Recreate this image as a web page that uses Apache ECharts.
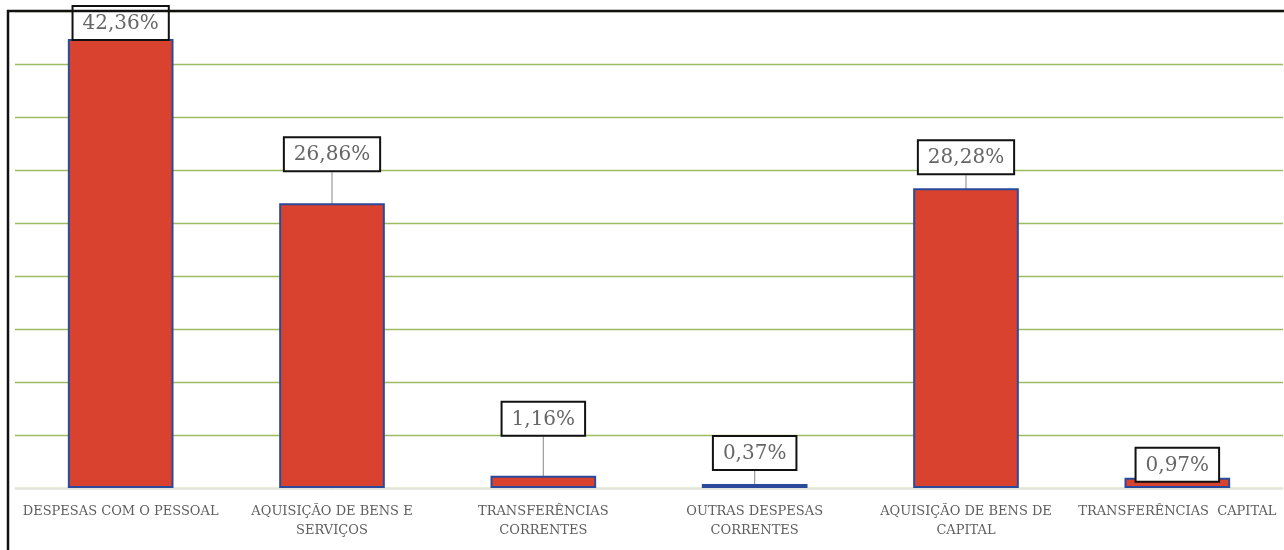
<!DOCTYPE html>
<html>
<head>
<meta charset="utf-8">
<script src="https://cdn.jsdelivr.net/npm/echarts@6/dist/echarts.min.js"></script>
<style>html,body{margin:0;padding:0;background:#fff}#c{width:1284px;height:550px}</style>
</head>
<body>
<div id="c"></div>
<script>
const categories = [
  'DESPESAS COM O PESSOAL',
  'AQUISIÇÃO DE BENS E\nSERVIÇOS',
  'TRANSFERÊNCIAS\nCORRENTES',
  'OUTRAS DESPESAS\nCORRENTES',
  'AQUISIÇÃO DE BENS DE\nCAPITAL',
  'TRANSFERÊNCIAS  CAPITAL'
];
const values = [42.36, 26.86, 1.16, 0.37, 28.28, 0.97];
const labelTexts = ['42,36%', '26,86%', '1,16%', '0,37%', '28,28%', '0,97%'];
// extra vertical offset of each label box above its bar (px)
const labelGap = [0, 33, 41, 15, 15, -3];

const chart = echarts.init(document.getElementById('c'));
chart.setOption({
  animation: false,
  grid: { left: 15, right: 1, top: 11, bottom: 62 },
  xAxis: {
    type: 'category',
    data: categories,
    axisTick: { show: false },
    axisLine: { lineStyle: { color: '#e4e4e4', width: 1 } },
    axisLabel: {
      interval: 0,
      color: '#5e5e5e',
      fontFamily: 'DejaVu Serif',
      fontSize: 13,
      lineHeight: 19,
      margin: 14
    }
  },
  yAxis: {
    type: 'value',
    min: 0, max: 45, interval: 5,
    axisLabel: { show: false },
    axisLine: { show: false },
    axisTick: { show: false },
    splitLine: { lineStyle: { color: '#9dbb61', width: 1.3 } }
  },
  series: [{
    type: 'bar',
    barWidth: '50%',
    data: values,
    itemStyle: { color: '#d8422f', borderColor: '#2b4a9b', borderWidth: 2 },
    label: {
      show: true,
      position: 'top',
      distance: 0,
      formatter: p => labelTexts[p.dataIndex],
      fontFamily: 'DejaVu Serif',
      fontSize: 20,
      color: '#666',
      backgroundColor: '#fff',
      borderColor: '#111',
      borderWidth: 2,
      padding: [7, 9, 5, 9]
    },
    labelLayout: p => ({ dy: -labelGap[p.dataIndex] }),
    labelLine: { show: true, lineStyle: { color: '#9a9a9a', width: 1.2 } }
  }],
  graphic: [{
    type: 'polyline',
    shape: { points: [[8, 550], [8, 11], [1284, 11]] },
    style: { stroke: '#111', lineWidth: 2.5, fill: null },
    z: 100
  }]
});
</script>
</body>
</html>
